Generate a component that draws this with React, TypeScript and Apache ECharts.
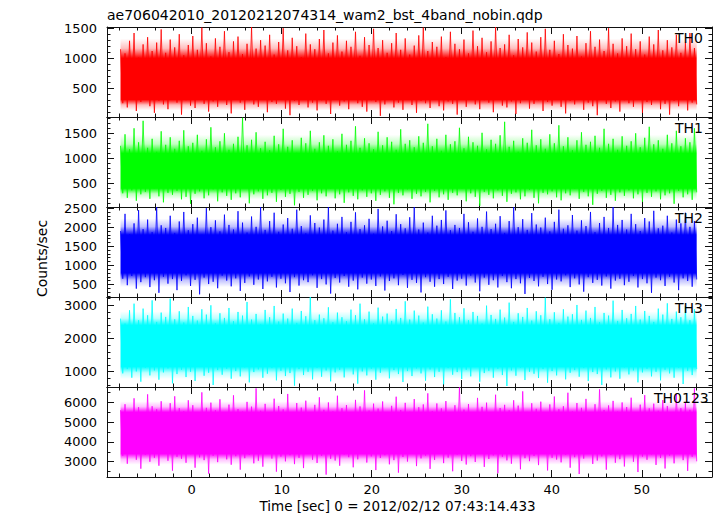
import { useEffect, useRef } from "react";
import * as echarts from "echarts";

const titleText = "ae706042010_20120212074314_wam2_bst_4band_nobin.qdp";
const xTitle = "Time [sec] 0 = 2012/02/12 07:43:14.433";
const yTitle = "Counts/sec";

const tStart = -7.9;
const tEnd = 56.1;
const xMin = -9.4;
const xMax = 57.8;
const xMajorTicks = [0, 10, 20, 30, 40, 50];
const xMinorTicks = [-8, -6, -4, -2, 2, 4, 6, 8, 12, 14, 16, 18, 22, 24, 26, 28, 32, 34, 36, 38, 42, 44, 46, 48, 52, 54, 56];

const panelNames = ["TH0", "TH1", "TH2", "TH3", "TH0123"];
const panelColors = ["#ff0000", "#00ff00", "#0000ff", "#00ffff", "#ff00ff"];
const yMins = [20, 26, 170, 540, 2230];
const yMaxs = [1520, 1826, 2530, 3250, 6770];
const yMajorTicks = [
  [500, 1000, 1500],
  [500, 1000, 1500],
  [500, 1000, 1500, 2000, 2500],
  [1000, 2000, 3000],
  [3000, 4000, 5000, 6000],
];
const yMinorTicks = [
  [100, 200, 300, 400, 600, 700, 800, 900, 1100, 1200, 1300, 1400],
  [100, 200, 300, 400, 600, 700, 800, 900, 1100, 1200, 1300, 1400, 1600, 1700, 1800],
  [200, 300, 400, 600, 700, 800, 900, 1100, 1200, 1300, 1400, 1600, 1700, 1800, 1900, 2100, 2200, 2300, 2400],
  [600, 800, 1200, 1400, 1600, 1800, 2200, 2400, 2600, 2800, 3200],
  [2500, 3500, 4500, 5500, 6500],
];

// dense body of each light curve: solid between coreLow..coreHigh, thinning out to fadeLow/fadeHigh
const coreLow = [310, 400, 800, 1150, 3400];
const coreHigh = [1000, 1100, 1800, 2400, 5500];
const fadeLow = [130, 180, 430, 780, 2850];
const fadeHigh = [1330, 1470, 2230, 2820, 6050];

// spike tops and bottoms of the light curves
const th0High = [
  1150, 1080, 1290, 1420, 1010, 1230, 1350, 1120, 1260, 1480, 1090, 1310, 1180, 1400, 1050, 1220,
  1370, 1140, 1510, 1250, 1030, 1330, 1190, 1450, 1100, 1280, 1360, 1070, 1240, 1520, 1160, 1300,
  1210, 1390, 1060, 1270, 1500, 1130, 1340, 1200, 1020, 1410, 1230, 1150, 1320, 1470, 1080, 1260,
  1380, 1110, 1290, 1190, 1440, 1040, 1350, 1220, 1490, 1170, 1300, 1090, 1250, 1420, 1140, 1330,
  1060, 1210, 1380, 1510, 1120, 1270, 1190, 1360, 1020, 1440, 1240, 1150, 1310, 1080, 1460, 1200,
  1340, 1100, 1280, 1520, 1170, 1230, 1390, 1050, 1320, 1180, 1430, 1260, 1110, 1350, 1490, 1140,
  1290, 1070, 1400, 1220, 1160, 1370, 1030, 1250, 1450, 1190, 1310, 1120, 1500, 1240, 1080, 1330,
  1200, 1410, 1150, 1280, 1060, 1360, 1230, 1470, 1130, 1300, 1180, 1390, 1090, 1260, 1420, 1170,
];
const th0Low = [
  250, 180, 310, 120, 270, 340, 200, 90, 290, 230, 150, 320, 260, 60, 300, 210,
  170, 330, 240, 110, 280, 190, 350, 220, 80, 310, 260, 140, 300, 230, 190, 330,
  100, 270, 240, 310, 160, 50, 290, 220, 340, 180, 260, 130, 300, 240, 70, 320,
  210, 280, 150, 330, 250, 190, 110, 300, 270, 40, 230, 310, 180, 260, 140, 340,
  220, 90, 290, 250, 170, 320, 200, 130, 280, 240, 60, 310, 190, 350, 230, 150,
  300, 260, 100, 330, 210, 180, 280, 70, 250, 320, 160, 240, 300, 120, 270, 210,
  340, 190, 80, 290, 230, 310, 140, 260, 200, 50, 320, 240, 170, 280, 110, 300,
  250, 190, 330, 90, 270, 220, 310, 150, 240, 60, 290, 200, 340, 130, 260, 230,
];
const th1High = [
  1250, 1480, 1180, 1600, 1320, 1750, 1210, 1390, 1130, 1540, 1270, 1420, 1190, 1350, 1560, 1240,
  1310, 1470, 1150, 1380, 1620, 1220, 1340, 1500, 1170, 1290, 1430, 1810, 1260, 1370, 1520, 1200,
  1330, 1160, 1450, 1280, 1590, 1230, 1360, 1110, 1410, 1300, 1550, 1190, 1320, 1460, 1250, 1380,
  1140, 1490, 1270, 1350, 1640, 1210, 1400, 1300, 1180, 1530, 1260, 1420, 1330, 1170, 1580, 1290,
  1360, 1220, 1440, 1310, 1690, 1240, 1390, 1150, 1470, 1280, 1340, 1610, 1200, 1430, 1320, 1250,
  1510, 1180, 1370, 1290, 1460, 1730, 1230, 1350, 1130, 1400, 1310, 1570, 1260, 1380, 1190, 1480,
  1300, 1660, 1240, 1420, 1160, 1360, 1520, 1270, 1330, 1450, 1210, 1590, 1290, 1390, 1170, 1440,
  1250, 1340, 1500, 1220, 1410, 1630, 1280, 1360, 1190, 1470, 1300, 1550, 1240, 1400, 1320, 1600,
];
const th1Low = [
  300, 210, 360, 150, 280, 330, 190, 400, 240, 120, 310, 270, 350, 180, 230, 90,
  290, 340, 200, 260, 380, 140, 320, 250, 170, 300, 220, 410, 100, 280, 340, 190,
  260, 310, 130, 370, 230, 290, 60, 330, 210, 270, 350, 160, 300, 240, 390, 200,
  280, 110, 320, 250, 180, 360, 230, 300, 150, 270, 340, 210, 80, 310, 260, 380,
  190, 290, 240, 330, 120, 350, 220, 280, 170, 310, 260, 400, 140, 300, 230, 50,
  330, 270, 200, 360, 250, 130, 290, 320, 180, 240, 370, 210, 100, 310, 280, 340,
  220, 160, 300, 260, 390, 190, 330, 240, 70, 290, 350, 210, 270, 150, 320, 250,
  360, 200, 280, 130, 310, 230, 340, 180, 260, 300, 90, 350, 220, 280, 170, 320,
];
const th2High = [
  1900, 2350, 1820, 2100, 2450, 1950, 2200, 1870, 2530, 2050, 1980, 2300, 1850, 2150, 2400, 1920,
  2080, 2250, 1800, 2500, 2000, 2180, 1890, 2330, 2060, 1940, 2420, 2120, 1860, 2280, 2010, 2530,
  1930, 2160, 2380, 1880, 2070, 2240, 1960, 2460, 2030, 1840, 2310, 2110, 1990, 2200, 2530, 1910,
  2090, 2270, 1870, 2140, 2390, 1950, 2050, 2220, 1830, 2480, 2020, 2170, 1900, 2340, 2080, 1970,
  2260, 2530, 1940, 2120, 1860, 2300, 2040, 2190, 2440, 1920, 2060, 1980, 2350, 2130, 1880, 2230,
  2010, 2410, 1950, 2090, 2290, 1850, 2160, 2530, 2000, 2210, 1930, 2370, 2070, 1990, 2250, 1890,
  2140, 2460, 1960, 2050, 2320, 1910, 2180, 2030, 2400, 1870, 2110, 2270, 1980, 2530, 2060, 2190,
  1940, 2350, 2080, 1900, 2240, 2150, 2430, 1970, 2040, 2300, 1860, 2200, 2100, 2380, 2010, 2160,
];
const th2Low = [
  650, 480, 720, 390, 560, 690, 430, 610, 280, 700, 520, 640, 350, 590, 740, 460,
  620, 240, 680, 510, 570, 400, 730, 600, 450, 660, 330, 540, 710, 490, 630, 380,
  580, 700, 420, 650, 530, 300, 690, 470, 610, 560, 740, 410, 640, 500, 260, 670,
  550, 720, 440, 600, 370, 680, 520, 630, 460, 710, 340, 590, 660, 480, 750, 410,
  620, 540, 290, 690, 570, 440, 640, 510, 700, 380, 600, 650, 470, 730, 550, 320,
  680, 490, 610, 420, 720, 560, 400, 640, 530, 250, 670, 590, 450, 700, 510, 360,
  630, 580, 740, 430, 660, 500, 310, 690, 540, 620, 470, 710, 390, 600, 650, 480,
  570, 720, 420, 640, 530, 280, 680, 610, 460, 700, 550, 350, 660, 590, 440, 630,
];
const th3High = [
  2600, 2450, 2850, 3050, 2550, 2900, 2700, 3150, 2500, 2780, 2650, 3200, 2580, 2820, 2480, 2950,
  2680, 2540, 2880, 2720, 3000, 2460, 2760, 2620, 2920, 2520, 2800, 2690, 3100, 2570, 2740, 2430,
  2860, 2640, 2980, 2510, 2750, 2600, 2900, 2470, 2830, 2670, 3250, 2550, 2720, 2610, 2940, 2490,
  2780, 2640, 2520, 2870, 2700, 3050, 2580, 2810, 2460, 2930, 2660, 2750, 2530, 2890, 2620, 3120,
  2570, 2840, 2690, 2480, 2960, 2730, 2600, 2850, 2510, 3180, 2770, 2640, 2910, 2550, 2800, 2680,
  2450, 2990, 2710, 2590, 2870, 2630, 3080, 2500, 2760, 2650, 2920, 2540, 2820, 2700, 3230, 2580,
  2790, 2470, 2880, 2660, 2730, 3010, 2560, 2840, 2620, 2950, 2490, 2770, 2690, 3140, 2530, 2860,
  2610, 2740, 2980, 2570, 2830, 2680, 2500, 2900, 2720, 3060, 2590, 2810, 2640, 2970, 2550, 2880,
];
const th3Low = [
  950, 1080, 820, 1010, 700, 1120, 890, 1040, 760, 980, 1100, 650, 930, 1060, 840, 1000,
  720, 1140, 880, 970, 600, 1050, 910, 1090, 790, 1020, 860, 1130, 680, 990, 1070, 820,
  940, 1110, 740, 1030, 870, 960, 580, 1080, 900, 1000, 770, 1120, 850, 1040, 710, 980,
  1060, 830, 1150, 920, 640, 1010, 890, 1090, 760, 970, 1130, 800, 1050, 930, 690, 1020,
  870, 1100, 950, 730, 1070, 840, 1000, 620, 1110, 910, 990, 780, 1060, 860, 1140, 700,
  960, 1030, 820, 1090, 900, 570, 1040, 880, 1120, 750, 1000, 940, 810, 1080, 670, 1020,
  890, 1150, 770, 970, 1050, 850, 1110, 720, 990, 930, 600, 1070, 830, 1010, 790, 1130,
  920, 1040, 680, 980, 1090, 860, 1000, 740, 1060, 950, 820, 1120, 630, 1030, 900, 1080,
];
const th0123High = [
  5600, 5900, 5450, 6200, 5750, 5500, 6400, 5800, 5650, 6050, 5400, 5950, 6300, 5700, 5550, 6100,
  5850, 5480, 6500, 5720, 5980, 5600, 6150, 5420, 5880, 6350, 5660, 5530, 6020, 5780, 6700, 5570,
  5920, 5450, 6180, 5810, 5640, 6420, 5500, 5960, 5730, 6080, 5410, 5870, 6250, 5620, 5990, 5540,
  6330, 5700, 5860, 5470, 6120, 5790, 6600, 5580, 5930, 5680, 6040, 5440, 5820, 6280, 5610, 5970,
  5520, 6160, 5750, 5890, 6450, 5560, 5940, 5690, 6060, 5430, 5850, 6750, 5630, 5910, 5500, 6220,
  5770, 5980, 5460, 6380, 5710, 5870, 5590, 6100, 5830, 6550, 5510, 5950, 5670, 6030, 5420, 5890,
  6290, 5650, 5800, 6480, 5540, 5960, 5720, 6170, 5480, 5900, 6650, 5610, 5840, 6070, 5530, 5990,
  5760, 6230, 5440, 5880, 6360, 5690, 5930, 5570, 6110, 5810, 5470, 6420, 5700, 5960, 5620, 6700,
];
const th0123Low = [
  3300, 2900, 3450, 3100, 2650, 3350, 3000, 3200, 2800, 3400, 3050, 2550, 3250, 3150, 2950, 3380,
  2700, 3220, 3080, 2400, 3300, 2980, 3420, 3120, 2850, 3280, 2600, 3180, 3350, 2920, 3050, 2750,
  3400, 3160, 2500, 3260, 3020, 3330, 2880, 3200, 2680, 3440, 3100, 2940, 3300, 2350, 3150, 3060,
  2800, 3370, 3230, 2720, 3120, 3410, 2960, 3270, 2580, 3190, 3330, 2870, 3080, 2450, 3240, 3010,
  3390, 2780, 3170, 3310, 2640, 3090, 3430, 2930, 3210, 2520, 3360, 3040, 2860, 3280, 2990, 3400,
  2740, 3140, 3320, 2420, 3250, 3070, 2900, 3380, 2620, 3180, 3030, 3290, 2830, 3450, 2560, 3200,
  3110, 2970, 3350, 2700, 3230, 2380, 3160, 3400, 2890, 3060, 3270, 2600, 3340, 2950, 3130, 2760,
  3420, 3000, 2480, 3260, 3100, 3370, 2840, 3190, 2660, 3310, 2920, 3430, 3080, 2540, 3250, 3020,
];

const highs = [th0High, th1High, th2High, th3High, th0123High];
const lows = [th0Low, th1Low, th2Low, th3Low, th0123Low];

const FONT = "DejaVu Sans";
const AXIS_COLOR = "#111";

function zigzag(hi: number[], lo: number[]) {
  const n = hi.length * 2;
  const step = (tEnd - tStart) / (n - 1);
  const out: number[][] = [];
  for (let k = 0; k < hi.length; k++) {
    out.push([tStart + 2 * k * step, hi[k]]);
    out.push([tStart + (2 * k + 1) * step, lo[k]]);
  }
  return out;
}

function rgba(hex: string, a: number) {
  const r = parseInt(hex.slice(1, 3), 16);
  const g = parseInt(hex.slice(3, 5), 16);
  const b = parseInt(hex.slice(5, 7), 16);
  return `rgba(${r},${g},${b},${a})`;
}

export default function App() {
  const ref = useRef<HTMLDivElement>(null);
  useEffect(() => {
    if (!ref.current) return;
    document.body.style.margin = "0";
    const chart = echarts.init(ref.current, null, { renderer: "svg" });
    const tops = [27, 117, 207, 297, 387];
    const grids = tops.map((t) => ({ left: 107, width: 605, top: t, height: 90 }));
    const xAxes: any[] = [];
    const yAxes: any[] = [];
    const series: any[] = [];
    const lineStyle = { color: AXIS_COLOR, width: 1 };
    const fmt = (v: number) => String(v);
    tops.forEach((_, g) => {
      const mk = (pos: string, ticks: number[], len: number, label: boolean, line: boolean) => ({
        type: "value",
        gridIndex: g,
        min: xMin,
        max: xMax,
        position: pos,
        axisLine: { show: line, onZero: false, lineStyle },
        axisTick: { show: true, inside: true, length: len, customValues: ticks, lineStyle },
        axisLabel: {
          show: label,
          customValues: xMajorTicks,
          formatter: fmt,
          color: "#000",
          fontFamily: FONT,
          fontSize: 13,
          margin: 6,
        },
        splitLine: { show: false },
      });
      xAxes.push(mk("bottom", xMajorTicks, 7, g === 4, true));
      xAxes.push(mk("bottom", xMinorTicks, 3.5, false, false));
      xAxes.push(mk("top", xMajorTicks, 7, false, true));
      xAxes.push(mk("top", xMinorTicks, 3.5, false, false));
      const mky = (pos: string, ticks: number[], len: number, label: boolean, line: boolean) => ({
        type: "value",
        gridIndex: g,
        min: yMins[g],
        max: yMaxs[g],
        position: pos,
        axisLine: { show: line, onZero: false, lineStyle },
        axisTick: { show: true, inside: true, length: len, customValues: ticks, lineStyle },
        axisLabel: {
          show: label,
          customValues: yMajorTicks[g],
          formatter: fmt,
          color: "#000",
          fontFamily: FONT,
          fontSize: 13,
          margin: 10,
        },
        splitLine: { show: false },
      });
      yAxes.push(mky("left", yMajorTicks[g], 7, true, true));
      yAxes.push(mky("left", yMinorTicks[g], 3.5, false, false));
      yAxes.push(mky("right", yMajorTicks[g], 7, false, true));
      yAxes.push(mky("right", yMinorTicks[g], 3.5, false, false));

      const color = panelColors[g];
      const span = fadeHigh[g] - fadeLow[g];
      const offTop = (fadeHigh[g] - coreHigh[g]) / span;
      const offBot = (fadeHigh[g] - coreLow[g]) / span;
      series.push({
        type: "custom",
        xAxisIndex: 4 * g,
        yAxisIndex: 4 * g,
        data: [[tStart, coreLow[g]]],
        silent: true,
        z: 1,
        renderItem: (_p: any, api: any) => {
          const a = api.coord([tStart, fadeHigh[g]]);
          const b = api.coord([tEnd, fadeLow[g]]);
          return {
            type: "rect",
            shape: { x: a[0], y: a[1], width: b[0] - a[0], height: b[1] - a[1] },
            style: {
              fill: new echarts.graphic.LinearGradient(0, 0, 0, 1, [
                { offset: 0, color: rgba(color, 0.0) },
                { offset: offTop * 0.5, color: rgba(color, 0.25) },
                { offset: offTop, color: rgba(color, 1) },
                { offset: offBot, color: rgba(color, 1) },
                { offset: offBot + (1 - offBot) * 0.5, color: rgba(color, 0.25) },
                { offset: 1, color: rgba(color, 0.0) },
              ]),
            },
          };
        },
      });
      series.push({
        type: "line",
        xAxisIndex: 4 * g,
        yAxisIndex: 4 * g,
        data: zigzag(highs[g], lows[g]),
        showSymbol: false,
        symbol: "none",
        silent: true,
        z: 2,
        lineStyle: { color, width: 1, opacity: 0.8 },
      });
    });

    const graphics: any[] = [
      {
        type: "text",
        x: 107,
        y: 15,
        style: { text: titleText, fontFamily: FONT, fontSize: 14, fill: "#000", align: "left", verticalAlign: "middle" },
      },
      {
        type: "text",
        x: 397.5,
        y: 506,
        style: { text: xTitle, fontFamily: FONT, fontSize: 13.5, fill: "#000", align: "center", verticalAlign: "middle" },
      },
      {
        type: "text",
        x: 42,
        y: 258.5,
        rotation: Math.PI / 2,
        style: { text: yTitle, fontFamily: FONT, fontSize: 14, fill: "#000", align: "center", verticalAlign: "middle" },
      },
    ];
    const labelX = [675, 675, 675, 675, 654];
    panelNames.forEach((name, g) => {
      graphics.push({
        type: "text",
        x: labelX[g],
        y: tops[g] + 10.5,
        z: 100,
        style: { text: name, fontFamily: FONT, fontSize: 14, fill: "#000", align: "left", verticalAlign: "middle" },
      });
    });

    chart.setOption({
      animation: false,
      backgroundColor: "#fff",
      grid: grids,
      xAxis: xAxes,
      yAxis: yAxes,
      series,
      graphic: graphics,
    });
    return () => chart.dispose();
  }, []);
  return <div ref={ref} style={{ width: 717, height: 516 }} />;
}
